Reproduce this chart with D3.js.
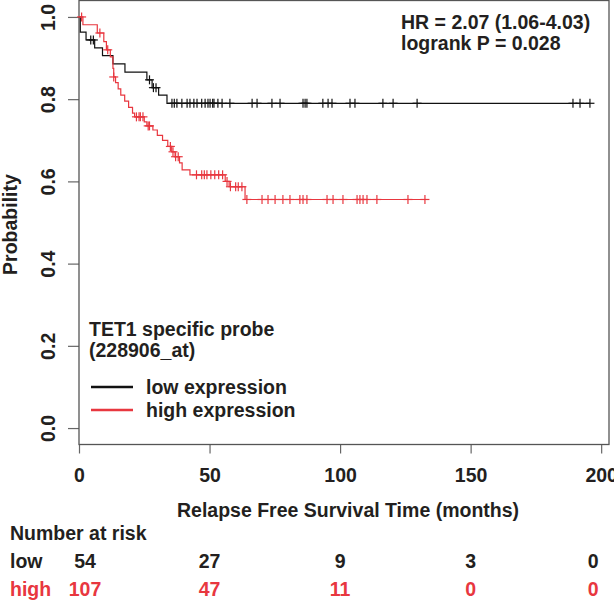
<!DOCTYPE html>
<html>
<head>
<meta charset="utf-8">
<script src="https://cdn.jsdelivr.net/npm/d3@7"></script>
<style>
  body { margin: 0; background: #fff; }
  svg { display: block; font-family: "Liberation Sans", Arial, sans-serif; font-weight: bold; }
</style>
</head>
<body>
<svg id="chart" width="614" height="604"></svg>
<script>
const xTicks = [0, 50, 100, 150, 200]
const yTicks = [0, 0.2, 0.4, 0.6, 0.8, 1.0]

// low expression group (black)
const lowEventTime = [0.5, 2.7, 6, 9, 13, 17.6, 26, 28, 30.5, 33.7]
const lowSurv = [0.963, 0.944, 0.925, 0.906, 0.886, 0.866, 0.847, 0.828, 0.81, 0.79]
const lowCensor = [4.5, 5.5, 27, 28.5, 29.5, 35.6, 36.5, 37.5, 39.4, 41.4, 42.5, 44, 45.2, 47, 48.3, 49.4,
  50.2, 51.2, 51.7, 53.2, 54.8, 57.8, 66.3, 68.2, 73.9, 77, 85.8, 86.6, 87.3, 93.4, 95.4, 96.9,
  103.8, 105.7, 116.4, 120.3, 129.5, 189.2, 191.9, 195.7]

// high expression group (red)
const highEventTime = [1.5, 7, 9.5, 10.5, 12, 13, 13.3, 14, 15, 16, 17.5, 19, 20.5, 21.3, 25, 26, 28.3, 30, 32,
  34, 35.5, 36.8, 38.5, 39.5, 42.5, 56, 57.5, 63.6]
const highSurv = [0.981, 0.961, 0.94, 0.92, 0.903, 0.875, 0.854, 0.84, 0.825, 0.81, 0.795, 0.78, 0.766, 0.757,
  0.745, 0.735, 0.725, 0.712, 0.7, 0.685, 0.672, 0.66, 0.645, 0.628, 0.616, 0.6, 0.587, 0.556]
const highCensor = [1, 8, 11, 13.3, 22, 23, 23.5, 24.5, 26.5, 27, 35, 36, 37, 38, 45, 47, 48, 49, 50.5, 52,
  53.5, 55, 56.7, 58, 60, 61, 62.4, 64.3, 70.1, 72.4, 75.1, 78.1, 80.8, 84.6, 85.8, 87.3, 95, 97.3,
  101.1, 106.5, 107.6, 108.8, 110.3, 114.1, 126, 132.5]

const riskTimes = [0, 50, 100, 150, 200]
const lowAtRisk = [54, 27, 9, 3, 0]
const highAtRisk = [107, 47, 11, 0, 0]

const red = "#e8373f"
const ink = "#231f20"

const svg = d3.select("#chart")
const x = d3.scaleLinear().domain([0, 203]).range([79, 609])
const y = d3.scaleLinear().domain([-0.04, 1.04]).range([444.5, 0.5])

// y axis
const yAxis = svg.append("g")
  .attr("transform", "translate(" + x(0) + ",0)")
  .call(d3.axisLeft(y).tickValues(yTicks).tickSize(11).tickFormat(d3.format(".1f")))
yAxis.select(".domain").remove()
yAxis.selectAll("line").attr("stroke", "#666").attr("stroke-width", 1.2)
yAxis.selectAll("text")
  .attr("x", 0).attr("y", 0).attr("dy", 0)
  .attr("transform", "translate(-24.5,0) rotate(-90)")
  .attr("text-anchor", "middle")
  .attr("fill", ink)
  .style("font-size", "19.5px")
  .style("font-family", "Liberation Sans, Arial, sans-serif")
  .style("font-weight", "bold")

// x axis
const xAxis = svg.append("g")
  .attr("transform", "translate(0," + y(-0.04) + ")")
  .call(d3.axisBottom(x).tickValues(xTicks).tickSize(9).tickSizeOuter(0))
xAxis.select(".domain").remove()
xAxis.selectAll("line").attr("stroke", "#666").attr("stroke-width", 1.2)
xAxis.selectAll("text")
  .attr("y", 37).attr("dy", 0)
  .attr("fill", ink)
  .style("font-size", "19.5px")
  .style("font-family", "Liberation Sans, Arial, sans-serif")
  .style("font-weight", "bold")

// plot box
svg.append("rect")
  .attr("x", x(0)).attr("y", y(1.04))
  .attr("width", x(203) - x(0)).attr("height", y(-0.04) - y(1.04))
  .attr("fill", "none").attr("stroke", "#555").attr("stroke-width", 1.3)

function survAt(times, surv, t) {
  let s = 1
  times.forEach((et, i) => { if (et <= t) s = surv[i] })
  return s
}

function drawCurve(times, surv, censor, color) {
  const tEnd = d3.max(censor.concat(times))
  const pts = [[0, 1]].concat(times.map((t, i) => [t, surv[i]]))
  pts.push([tEnd, surv[surv.length - 1]])
  const line = d3.line().x(d => x(d[0])).y(d => y(d[1])).curve(d3.curveStepAfter)
  svg.append("path").datum(pts)
    .attr("d", line)
    .attr("fill", "none").attr("stroke", color).attr("stroke-width", 1.2)

  const marks = svg.append("g").selectAll("g").data(censor).enter().append("g")
    .attr("transform", t => "translate(" + x(t) + "," + y(survAt(times, surv, t)) + ")")
  marks.append("line").attr("x1", -4.5).attr("x2", 4.5).attr("y1", 0).attr("y2", 0)
    .attr("stroke", color).attr("stroke-width", 1.2)
  marks.append("line").attr("x1", 0).attr("x2", 0).attr("y1", -4.5).attr("y2", 4.5)
    .attr("stroke", color).attr("stroke-width", 1.2)
}

drawCurve(lowEventTime, lowSurv, lowCensor, "#111")
drawCurve(highEventTime, highSurv, highCensor, red)

// stats text
const txt = (s, px, py, color, anchor) => svg.append("text")
  .attr("x", px).attr("y", py)
  .attr("fill", color || ink)
  .attr("text-anchor", anchor || "start")
  .style("font-size", "19.5px")
  .text(s)

txt("HR = 2.07 (1.06-4.03)", 401, 29)
txt("logrank P = 0.028", 401, 50)

txt("TET1 specific probe", 89, 336)
txt("(228906_at)", 89, 357)

// legend
const legend = [["low expression", "#111"], ["high expression", red]]
legend.forEach((d, i) => {
  const ly = 387 + i * 23
  svg.append("line").attr("x1", 91).attr("x2", 133).attr("y1", ly).attr("y2", ly)
    .attr("stroke", d[1]).attr("stroke-width", 2.5)
  txt(d[0], 146, ly + 7)
})

// axis titles
txt("Relapse Free Survival Time (months)", 348, 517, ink, "middle")
svg.append("text")
  .attr("transform", "translate(17," + (y(0.5) + 2) + ") rotate(-90)")
  .attr("text-anchor", "middle")
  .attr("fill", ink)
  .style("font-size", "19.5px")
  .text("Probability")

// number at risk table
txt("Number at risk", 10, 540)
txt("low", 10, 568)
txt("high", 10, 596, red)
const colX = t => Math.min(Math.max(x(t), x(0) + 6), x(200) - 8)
riskTimes.forEach((t, i) => {
  txt(lowAtRisk[i], colX(t), 568, ink, "middle")
  txt(highAtRisk[i], colX(t), 596, red, "middle")
})
</script>
</body>
</html>
